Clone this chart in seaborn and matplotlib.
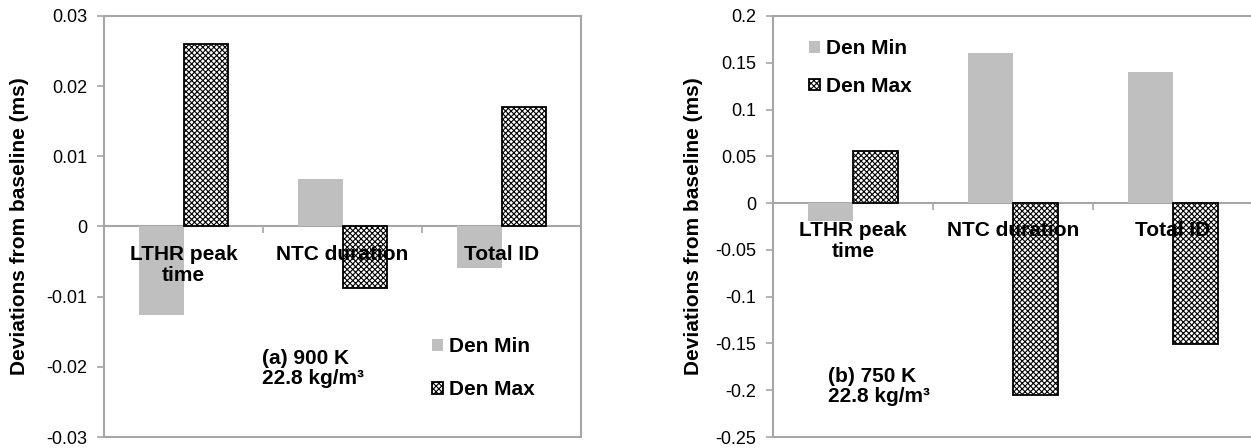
import matplotlib
matplotlib.use("Agg")
import matplotlib.pyplot as plt
import numpy as np
import pandas as pd
import seaborn as sns
from matplotlib.ticker import FixedLocator

# ---------------- data ----------------
categories = ["LTHR peak\ntime", "NTC duration", "Total ID"]
series_names = ["Den Min", "Den Max"]

# panel (a) 900 K
a_den_min = [-0.0126, 0.0067, -0.0059]
a_den_max = [0.0260, -0.0088, 0.0171]
a_yticks = [0.03, 0.02, 0.01, 0, -0.01, -0.02, -0.03]
a_yticklabels = ["0.03", "0.02", "0.01", "0", "-0.01", "-0.02", "-0.03"]

# panel (b) 750 K
b_den_min = [-0.0196, 0.1605, 0.1400]
b_den_max = [0.0553, -0.2055, -0.1505]
b_yticks = [0.2, 0.15, 0.1, 0.05, 0, -0.05, -0.1, -0.15, -0.2, -0.25]
b_yticklabels = ["0.2", "0.15", "0.1", "0.05", "0", "-0.05", "-0.1", "-0.15", "-0.2", "-0.25"]

ylabel = "Deviations from baseline (ms)"
a_note = "(a) 900 K\n22.8 kg/m³"
b_note = "(b) 750 K\n22.8 kg/m³"

# ---------------- style ----------------
sns.set_style("white")
plt.rcParams["font.family"] = ["Liberation Sans", "DejaVu Sans"]
plt.rcParams["hatch.linewidth"] = 0.8
plt.rcParams["text.color"] = "black"
plt.rcParams["axes.labelcolor"] = "black"
plt.rcParams["xtick.labelcolor"] = "black"
plt.rcParams["ytick.labelcolor"] = "black"

GRAY = "#BFBFBF"
SPINE = "#A6A6A6"
W, H = 1251, 448

fig = plt.figure(figsize=(W / 100, H / 100), dpi=100)
axA = fig.add_axes([104 / W, 11 / H, 477 / W, 421 / H])
axB = fig.add_axes([773 / W, 11 / H, 480 / W, 421 / H])


def draw(ax, mins, maxs, yticks, yticklabels, note, note_xy, leg_anchor, leg_spacing, label_x):
    df = pd.DataFrame({
        "cat": categories * 2,
        "val": list(mins) + list(maxs),
        "series": [series_names[0]] * len(categories) + [series_names[1]] * len(categories),
    })
    sns.barplot(data=df, x="cat", y="val", hue="series", order=categories,
                hue_order=series_names, palette=[GRAY, "white"], width=0.566,
                errorbar=None, saturation=1, legend=False, ax=ax)
    ax.set_axisbelow(False)
    c_min, c_max = ax.containers[0], ax.containers[1]
    for p in c_min:
        p.set_edgecolor("none")
        p.set_linewidth(0)
    for p in c_max:
        p.set_edgecolor("black")
        p.set_linewidth(1.3)
        p.set_hatch("xxxxxx")

    lo, hi = min(yticks), max(yticks)
    ax.set_ylim(lo, hi)
    ax.set_xlim(-0.5, len(categories) - 0.5)

    for s in ["top", "left", "right", "bottom"]:
        ax.spines[s].set_visible(True)
        ax.spines[s].set_color(SPINE)
        ax.spines[s].set_linewidth(1.5)
        ax.spines[s].set_zorder(0.8)
    ax.spines["bottom"].set_position(("data", 0))
    ax.axhline(lo, color=SPINE, lw=1.5, clip_on=False, zorder=3)

    ax.set_yticks(yticks)
    ax.set_yticklabels(yticklabels)
    ax.tick_params(axis="y", which="major", left=True, direction="out", length=5,
                   width=1.2, color=SPINE, labelsize=13, pad=7, labelcolor="black")

    ax.set_xticks(range(len(categories)))
    ax.set_xticklabels(categories, fontweight="bold", fontsize=15, linespacing=1.15,
                       color="black")
    ax.tick_params(axis="x", which="major", bottom=True, length=0, pad=13)
    ax.xaxis.set_minor_locator(FixedLocator([i + 0.5 for i in range(len(categories) - 1)]))
    ax.tick_params(axis="x", which="minor", bottom=True, direction="out", length=5,
                   width=1.2, color=SPINE)
    ax.set_xlabel("")

    ax.set_ylabel(ylabel, fontweight="bold", fontsize=15, va="center", color="black")
    ax.yaxis.set_label_coords(label_x, 0.5)

    ax.text(note_xy[0], note_xy[1], note, transform=ax.transAxes, ha="left", va="center",
            fontsize=15, fontweight="bold", linespacing=1.1, color="black")

    leg = ax.legend(handles=[c_min.patches[0], c_max.patches[0]], labels=series_names,
                    loc="upper left", bbox_to_anchor=leg_anchor, frameon=False,
                    handlelength=0.5, handleheight=0.5, handletextpad=0.3,
                    borderpad=0, borderaxespad=0, labelspacing=leg_spacing,
                    prop={"weight": "bold", "size": 15})
    for t in leg.get_texts():
        t.set_color("black")


draw(axA, a_den_min, a_den_max, a_yticks, a_yticklabels, a_note,
     (0.331, 0.163), (0.688, 0.237), 1.15, -0.178)
draw(axB, b_den_min, b_den_max, b_yticks, b_yticklabels, b_note,
     (0.115, 0.12), (0.076, 0.945), 0.9, -0.165)

fig.savefig("out.png", dpi=100)
